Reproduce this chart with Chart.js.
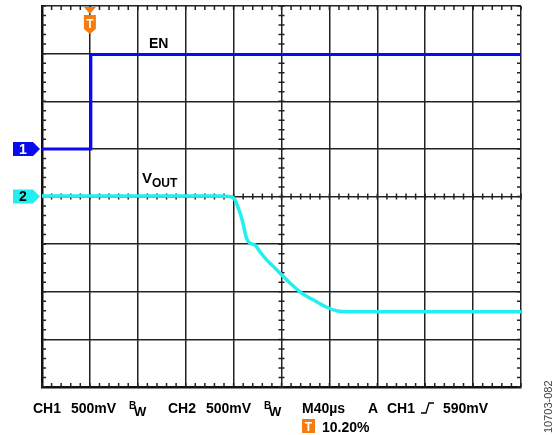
<!DOCTYPE html>
<html>
<head>
<meta charset="utf-8">
<script src="https://cdn.jsdelivr.net/npm/chart.js@4.4.0/dist/chart.umd.min.js"></script>
<style>
  html, body { margin: 0; padding: 0; background: #fff; }
  #wrap { position: relative; width: 556px; height: 435px; }
</style>
</head>
<body>
<div id="wrap"><canvas id="scope" width="556" height="435"></canvas></div>
<script>
// screen divisions (10 x 8), values in divisions
const enX = [0, 1.02, 1.02, 10];
const enY = [5.0, 5.0, 6.98, 6.98];

const voutX = [0, 3.72, 3.92, 4.03, 4.10, 4.17, 4.22, 4.27, 4.34, 4.45, 4.55, 4.69, 4.80, 4.97, 5.18, 5.42, 5.66, 5.91, 6.15, 6.43, 10];
const voutY = [4.01, 4.01, 4.0, 3.93, 3.75, 3.54, 3.33, 3.12, 3.02, 2.98, 2.84, 2.67, 2.56, 2.39, 2.18, 1.97, 1.83, 1.69, 1.60, 1.58, 1.58];

const traceLabels = ['EN', 'V', 'OUT'];
const footerTop = ['CH1', '500mV', 'CH2', '500mV', 'M40µs', 'A', 'CH1', '590mV'];
const trigPos = '10.20%';
const figId = '10703-082';

const toPts = (xs, ys) => xs.map((x, i) => ({x: x, y: ys[i]}));

const FONT = 'bold 14px "Liberation Sans", Arial, sans-serif';

// draws the scope graticule ticks, channel markers and the texts
const scopeDecor = {
    id: 'scopeDecor',
    beforeDatasetsDraw(chart) {
        const ctx = chart.ctx;
        const xs = chart.scales.x, ys = chart.scales.y;
        const a = chart.chartArea;
        ctx.save();
        ctx.strokeStyle = '#222';
        ctx.lineWidth = 1.5;
        ctx.beginPath();
        for (let i = 0; i <= 50; i++) {
            const px = xs.getPixelForValue(i / 5);
            ctx.moveTo(px, a.top); ctx.lineTo(px, a.top + 4);
            ctx.moveTo(px, a.bottom); ctx.lineTo(px, a.bottom - 4);
            const cy = ys.getPixelForValue(4);
            ctx.moveTo(px, cy - 3); ctx.lineTo(px, cy + 3);
        }
        for (let i = 0; i <= 40; i++) {
            const py = ys.getPixelForValue(i / 5);
            ctx.moveTo(a.left, py); ctx.lineTo(a.left + 4, py);
            ctx.moveTo(a.right, py); ctx.lineTo(a.right - 4, py);
            const cx = xs.getPixelForValue(5);
            ctx.moveTo(cx - 3, py); ctx.lineTo(cx + 3, py);
        }
        ctx.stroke();
        ctx.restore();
    },
    afterDraw(chart) {
        const ctx = chart.ctx;
        const xs = chart.scales.x, ys = chart.scales.y;
        const a = chart.chartArea;
        ctx.save();

        // channel markers on the left
        const marker = (val, fill, txtColor, label) => {
            const py = ys.getPixelForValue(val);
            ctx.fillStyle = fill;
            ctx.beginPath();
            ctx.moveTo(13, py - 7);
            ctx.lineTo(33, py - 7);
            ctx.lineTo(40, py);
            ctx.lineTo(33, py + 7);
            ctx.lineTo(13, py + 7);
            ctx.closePath();
            ctx.fill();
            ctx.fillStyle = txtColor;
            ctx.font = FONT;
            ctx.textAlign = 'center';
            ctx.textBaseline = 'middle';
            ctx.fillText(label, 23, py + 1);
        };
        marker(5.0, '#0a0af0', '#fff', '1');
        marker(4.0, '#22f0f0', '#000', '2');

        // trigger marker at the top
        const tx = xs.getPixelForValue(1.0);
        ctx.fillStyle = '#f47c10';
        ctx.beginPath();
        ctx.moveTo(tx - 6, a.top + 1);
        ctx.lineTo(tx + 6, a.top + 1);
        ctx.lineTo(tx, a.top + 8);
        ctx.closePath();
        ctx.fill();
        ctx.beginPath();
        ctx.moveTo(tx - 6, a.top + 9);
        ctx.lineTo(tx + 6, a.top + 9);
        ctx.lineTo(tx + 6, a.top + 23);
        ctx.lineTo(tx, a.top + 28);
        ctx.lineTo(tx - 6, a.top + 23);
        ctx.closePath();
        ctx.fill();
        ctx.fillStyle = '#fff';
        ctx.font = 'bold 12px "Liberation Sans", Arial, sans-serif';
        ctx.textAlign = 'center';
        ctx.textBaseline = 'alphabetic';
        ctx.fillText('T', tx, a.top + 22);

        // trace labels
        ctx.fillStyle = '#000';
        ctx.font = FONT;
        ctx.textAlign = 'left';
        ctx.fillText(traceLabels[0], 149, 48);
        ctx.font = 'bold 15px "Liberation Sans", Arial, sans-serif';
        ctx.fillText(traceLabels[1], 142, 183);
        ctx.font = 'bold 12px "Liberation Sans", Arial, sans-serif';
        ctx.fillText(traceLabels[2], 152, 187);

        // footer line
        const base = 413;
        ctx.font = FONT;
        ctx.fillText(footerTop[0], 33, base);
        ctx.fillText(footerTop[1], 71, base);
        ctx.fillText(footerTop[2], 168, base);
        ctx.fillText(footerTop[3], 206, base);
        ctx.fillText(footerTop[4], 302, base);
        ctx.fillText(footerTop[5], 368, base);
        ctx.fillText(footerTop[6], 387, base);
        ctx.fillText(footerTop[7], 443, base);
        // bandwidth limit marks
        const bw = (x) => {
            ctx.font = 'bold 10px "Liberation Sans", Arial, sans-serif';
            ctx.fillText('B', x, base - 4);
            ctx.font = 'bold 13px "Liberation Sans", Arial, sans-serif';
            ctx.fillText('W', x + 5, base + 3);
        };
        bw(129);
        bw(264);
        // rising edge symbol
        ctx.strokeStyle = '#000';
        ctx.lineWidth = 1.3;
        ctx.beginPath();
        ctx.moveTo(421, base);
        ctx.lineTo(426, base);
        ctx.lineTo(429, base - 10);
        ctx.lineTo(434, base - 10);
        ctx.stroke();

        // trigger position
        ctx.fillStyle = '#f47c10';
        ctx.fillRect(302, 419, 13, 14);
        ctx.fillStyle = '#fff';
        ctx.font = 'bold 12px "Liberation Sans", Arial, sans-serif';
        ctx.textAlign = 'center';
        ctx.fillText('T', 308.5, 431);
        ctx.fillStyle = '#000';
        ctx.font = FONT;
        ctx.textAlign = 'left';
        ctx.fillText(trigPos, 322, 432);

        // figure id, rotated
        ctx.translate(552, 433);
        ctx.rotate(-Math.PI / 2);
        ctx.fillStyle = '#444';
        ctx.font = '11px "Liberation Sans", Arial, sans-serif';
        ctx.fillText(figId, 0, 0);
        ctx.restore();
    }
};

const config = {
    type: 'scatter',
    data: {
        datasets: [
            {
                label: 'EN',
                data: toPts(enX, enY),
                showLine: true,
                borderColor: '#0a0af0',
                borderWidth: 3,
                pointRadius: 0,
                tension: 0
            },
            {
                label: 'VOUT',
                data: toPts(voutX, voutY),
                showLine: true,
                borderColor: '#22f0f0',
                borderWidth: 3.5,
                pointRadius: 0,
                tension: 0.3,
                cubicInterpolationMode: 'monotone'
            }
        ]
    },
    options: {
        responsive: false,
        animation: false,
        layout: { padding: { left: 42, top: 6, right: 35, bottom: 48 } },
        plugins: { legend: { display: false }, tooltip: { enabled: false } },
        scales: {
            x: {
                type: 'linear', min: 0, max: 10,
                ticks: { display: false, stepSize: 1 },
                grid: { color: '#222', lineWidth: 1.5, drawTicks: false },
                border: { color: '#111', width: 2.5 }
            },
            y: {
                type: 'linear', min: 0, max: 8,
                ticks: { display: false, stepSize: 1 },
                grid: { color: '#222', lineWidth: 1.5, drawTicks: false },
                border: { color: '#111', width: 2.5 }
            }
        }
    },
    plugins: [scopeDecor]
};

let chart = new Chart(document.getElementById('scope').getContext('2d'), config);
</script>
</body>
</html>
